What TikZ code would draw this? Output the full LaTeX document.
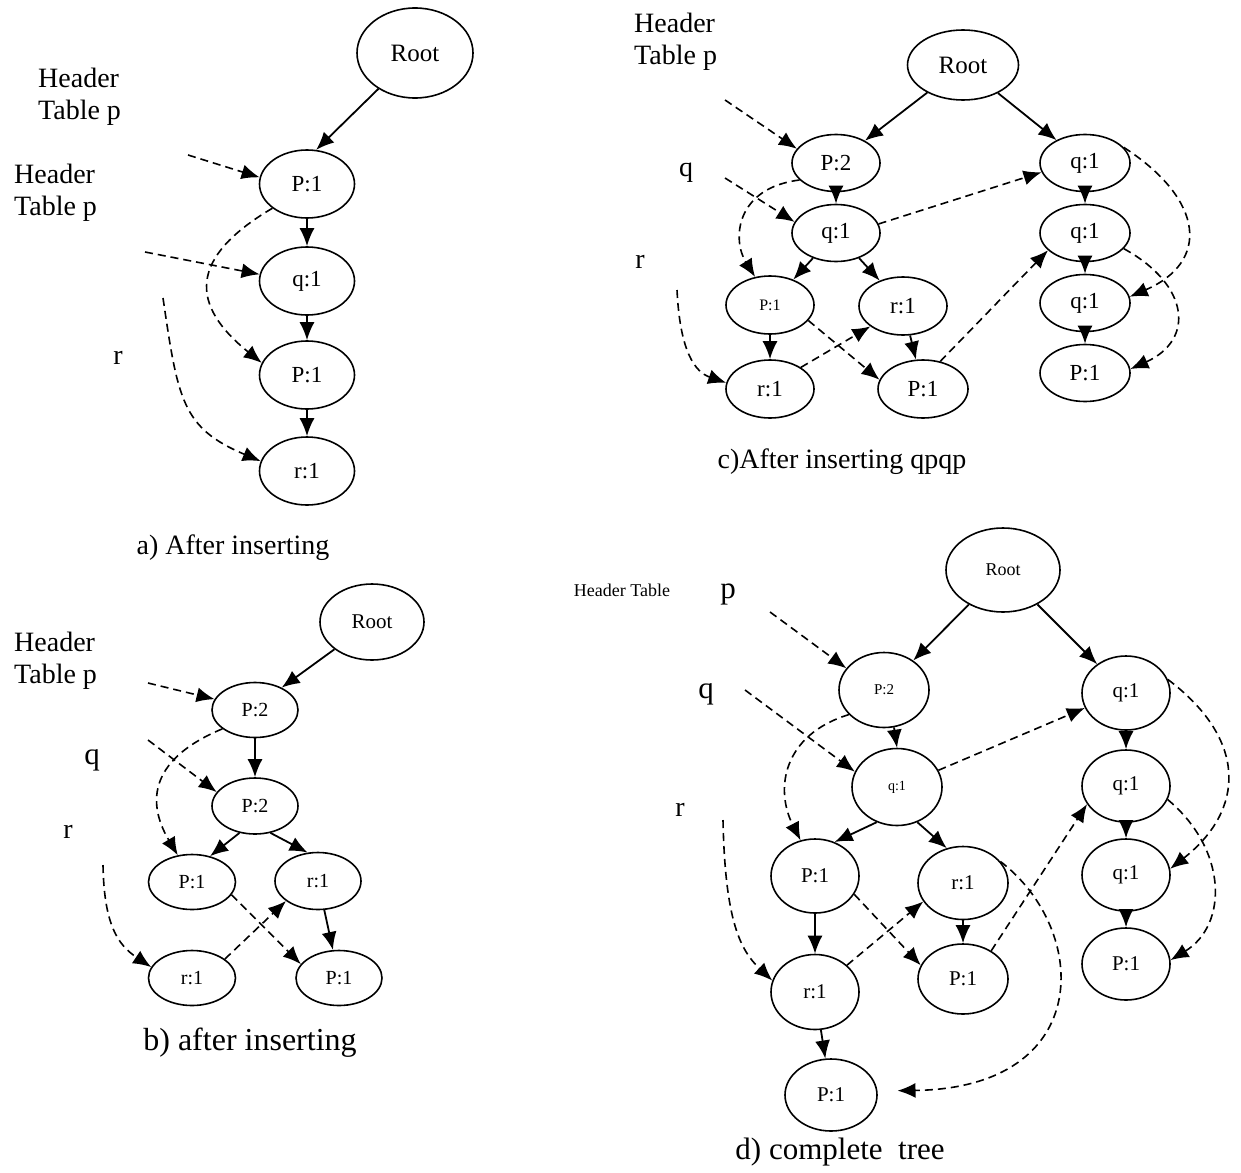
\documentclass[tikz,border=0pt]{standalone}
\usepackage{fontspec}
\setmainfont{Liberation Serif}
\usetikzlibrary{shapes.geometric,arrows.meta}

\tikzset{
  nd/.style={ellipse, draw, line width=1.6pt, inner sep=0pt, minimum width=92pt, minimum height=66pt, font=\fontsize{23}{23}\selectfont},
  rootnd/.style={nd, minimum width=116pt, minimum height=90pt, font=\fontsize{25}{25}\selectfont},
  tr/.style={line width=1.8pt, -{Latex[length=18pt,width=15pt]}},
  hl/.style={line width=1.6pt, dash pattern=on 8pt off 5pt, -{Latex[length=18pt,width=15pt]}},
  lbl/.style={font=\fontsize{28}{32}\selectfont, align=left, inner sep=0pt},
  captext/.style={font=\fontsize{28}{28}\selectfont, inner sep=0pt}
}

\begin{document}
\begin{tikzpicture}[x=1pt, y=-1pt]

  \useasboundingbox (0,0) rectangle (1241,1172);

  % a)
  \node (aroot) [rootnd] at (415,53) {Root};
  \node (ap1) [nd, minimum width=95pt, minimum height=68pt] at (307,184) {P:1};
  \node (aq1) [nd, minimum width=95pt, minimum height=68pt] at (307,281) {q:1};
  \node (ap2) [nd, minimum width=95pt, minimum height=68pt] at (307,375) {P:1};
  \node (ar1) [nd, minimum width=95pt, minimum height=68pt] at (307,471) {r:1};
  \node (ahdr) [lbl, anchor=west] at (38,97) {Header\\Table p};
  \node (ahdrb) [lbl, anchor=west] at (14,193) {Header\\Table p};
  \node (alr) [lbl] at (118,358) {r};
  \node (acap) [captext] at (233,548) {a) After inserting};
  \coordinate (ahp) at (188,155);
  \coordinate (ahq) at (145,252);
  \coordinate (ahr) at (163,298);

  \draw [tr] (aroot) -- (ap1.75);
  \draw [tr] (ap1) -- (aq1);
  \draw [tr] (aq1) -- (ap2);
  \draw [tr] (ap2) -- (ar1);
  \draw [hl] (ahp) -- (ap1.172);
  \draw [hl] (ahq) -- (aq1.172);
  \draw [hl] (ap1.215) .. controls (188,258) and (190,305) .. (ap2.165);
  \draw [hl] (ahr) .. controls (178,400) and (182,428) .. (ar1.168);

  % c)
  \node (croot) [rootnd, minimum width=111pt, minimum height=70pt] at (963,65) {Root};
  \node (cp2) [nd, minimum width=88pt, minimum height=57pt] at (836,163) {P:2};
  \node (cq1) [nd, minimum width=88pt, minimum height=57pt] at (836,233) {q:1};
  \node (cp1) [nd, minimum width=88pt, minimum height=58pt, font=\fontsize{16}{16}\selectfont] at (770,305) {P:1};
  \node (cr1) [nd, minimum width=88pt, minimum height=58pt] at (903,306) {r:1};
  \node (cr1b) [nd, minimum width=88pt, minimum height=58pt] at (770,389) {r:1};
  \node (cp1b) [nd, minimum width=90pt, minimum height=58pt] at (923,389) {P:1};
  \node (cq1r) [nd, minimum width=90pt, minimum height=57pt] at (1085,163) {q:1};
  \node (cq2r) [nd, minimum width=90pt, minimum height=57pt] at (1085,233) {q:1};
  \node (cq3r) [nd, minimum width=90pt, minimum height=57pt] at (1085,303) {q:1};
  \node (cp1r) [nd, minimum width=90pt, minimum height=57pt] at (1085,373) {P:1};
  \node (chdr) [lbl, anchor=west] at (634,42) {Header\\Table p};
  \node (clq) [lbl] at (686,173) {q};
  \node (clr) [lbl] at (640,262) {r};
  \node (ccap) [captext] at (842,462) {c)After inserting qpqp};
  \coordinate (chp) at (725,100);
  \coordinate (chq) at (725,178);
  \coordinate (chr) at (677,290);

  \draw [tr] (croot) -- (cp2);
  \draw [tr] (croot) -- (cq1r);
  \draw [tr] (cp2) -- (cq1);
  \draw [tr] (cq1) -- (cp1);
  \draw [tr] (cq1) -- (cr1);
  \draw [tr] (cp1) -- (cr1b);
  \draw [tr] (cr1) -- (cp1b);
  \draw [tr] (cq1r) -- (cq2r);
  \draw [tr] (cq2r) -- (cq3r);
  \draw [tr] (cq3r) -- (cp1r);
  \draw [hl] (chp) -- (cp2.160);
  \draw [hl] (chq) -- (cq1.165);
  \draw [hl] (cp2.205) .. controls (735,188) and (732,240) .. (cp1.118);
  \draw [hl] (cq1.12) -- (cq1r.192);
  \draw [hl] (chr) .. controls (680,352) and (695,372) .. (cr1b.172);
  \draw [hl] (cr1b.35) -- (cr1.212);
  \draw [hl] (cp1.-22) -- (cp1b.168);
  \draw [hl] (cp1b.58) -- (cq2r.205);
  \draw [hl] (cq1r.22) .. controls (1205,200) and (1210,262) .. (cq3r.8);
  \draw [hl] (cq2r.-22) .. controls (1190,285) and (1195,340) .. (cp1r.5);

  % b)
  \node (broot) [rootnd, minimum width=104pt, minimum height=76pt, font=\fontsize{21}{21}\selectfont] at (372,622) {Root};
  \node (bp2) [nd, minimum width=86pt, minimum height=55pt, font=\fontsize{20}{20}\selectfont] at (255,710) {P:2};
  \node (bp2b) [nd, minimum width=86pt, minimum height=56pt, font=\fontsize{20}{20}\selectfont] at (255,806) {P:2};
  \node (bp1) [nd, minimum width=87pt, minimum height=55pt, font=\fontsize{20}{20}\selectfont] at (192,882) {P:1};
  \node (br1) [nd, minimum width=86pt, minimum height=57pt, font=\fontsize{20}{20}\selectfont] at (318,881) {r:1};
  \node (br1b) [nd, minimum width=87pt, minimum height=55pt, font=\fontsize{20}{20}\selectfont] at (192,978) {r:1};
  \node (bp1b) [nd, minimum width=86pt, minimum height=55pt, font=\fontsize{20}{20}\selectfont] at (339,978) {P:1};
  \node (bhdr) [lbl, anchor=west] at (14,661) {Header\\Table p};
  \node (blq) [lbl, font=\fontsize{31}{31}\selectfont] at (92,760) {q};
  \node (blr) [lbl] at (68,832) {r};
  \node (bcap) [captext, font=\fontsize{32}{32}\selectfont] at (250,1043) {b) after inserting};
  \coordinate (bhp) at (148,683);
  \coordinate (bhq) at (148,740);
  \coordinate (bhr) at (103,865);

  \draw [tr] (broot) -- (bp2.40);
  \draw [tr] (bp2) -- (bp2b);
  \draw [tr] (bp2b.240) -- (bp1.55);
  \draw [tr] (bp2b.-60) -- (br1.110);
  \draw [tr] (br1) -- (bp1b);
  \draw [hl] (bhp) -- (bp2.165);
  \draw [hl] (bhq) -- (bp2b.160);
  \draw [hl] (bp2.210) .. controls (152,758) and (145,800) .. (bp1.118);
  \draw [hl] (bhr) .. controls (104,925) and (118,945) .. (br1b.165);
  \draw [hl] (br1b.30) -- (br1.212);
  \draw [hl] (bp1.-18) -- (bp1b.160);

  % d)
  \node (droot) [rootnd, minimum width=114pt, minimum height=84pt, font=\fontsize{18}{18}\selectfont] at (1003,570) {Root};
  \node (dp2) [nd, minimum width=90pt, minimum height=75pt, font=\fontsize{15}{15}\selectfont] at (884,690) {P:2};
  \node (dq1) [nd, minimum width=90pt, minimum height=77pt, font=\fontsize{14}{14}\selectfont] at (897,787) {q:1};
  \node (dp1) [nd, minimum width=88pt, minimum height=74pt, font=\fontsize{21}{21}\selectfont] at (815,876) {P:1};
  \node (dr1) [nd, minimum width=90pt, minimum height=73pt, font=\fontsize{21}{21}\selectfont] at (963,883) {r:1};
  \node (dr1b) [nd, minimum width=88pt, minimum height=75pt, font=\fontsize{21}{21}\selectfont] at (815,992) {r:1};
  \node (dp1b) [nd, minimum width=90pt, minimum height=70pt, font=\fontsize{21}{21}\selectfont] at (963,979) {P:1};
  \node (dp1bb) [nd, minimum width=92pt, minimum height=72pt, font=\fontsize{21}{21}\selectfont] at (831,1095) {P:1};
  \node (dq1r) [nd, minimum width=88pt, minimum height=74pt, font=\fontsize{21}{21}\selectfont] at (1126,693) {q:1};
  \node (dq2r) [nd, minimum width=88pt, minimum height=72pt, font=\fontsize{21}{21}\selectfont] at (1126,786) {q:1};
  \node (dq3r) [nd, minimum width=88pt, minimum height=72pt, font=\fontsize{21}{21}\selectfont] at (1126,875) {q:1};
  \node (dp1r) [nd, minimum width=88pt, minimum height=72pt, font=\fontsize{21}{21}\selectfont] at (1126,964) {P:1};
  \node (dhdr) [lbl, font=\fontsize{18}{18}\selectfont] at (622,590) {Header Table};
  \node (dlp) [lbl, font=\fontsize{31}{31}\selectfont] at (728,594) {p};
  \node (dlq) [lbl, font=\fontsize{31}{31}\selectfont] at (706,694) {q};
  \node (dlr) [lbl] at (680,810) {r};
  \node (dcap) [captext, font=\fontsize{31}{31}\selectfont] at (840,1152) {d) complete\enspace tree};
  \coordinate (dhp) at (770,612);
  \coordinate (dhq) at (745,690);
  \coordinate (dhr) at (723,820);

  \draw [tr] (droot) -- (dp2);
  \draw [tr] (droot) -- (dq1r);
  \draw [tr] (dp2.-75) -- (dq1.north);
  \draw [tr] (dq1.240) -- (dp1.60);
  \draw [tr] (dq1.-60) -- (dr1.115);
  \draw [tr] (dp1) -- (dr1b);
  \draw [tr] (dr1) -- (dp1b);
  \draw [tr] (dr1b) -- (dp1bb);
  \draw [tr] (dq1r) -- (dq2r);
  \draw [tr] (dq2r) -- (dq3r);
  \draw [tr] (dq3r) -- (dp1r);
  \draw [hl] (dhp) -- (dp2.150);
  \draw [hl] (dhq) -- (dq1.160);
  \draw [hl] (dp2.215) .. controls (782,735) and (775,790) .. (dp1.112);
  \draw [hl] (dq1.22) -- (dq1r.200);
  \draw [hl] (dhr) .. controls (725,920) and (740,950) .. (dr1b.165);
  \draw [hl] (dr1b.40) -- (dr1.205);
  \draw [hl] (dp1.-25) -- (dp1b.162);
  \draw [hl] (dp1b.45) -- (dq2r.205);
  \draw [hl, shorten >=20pt] (dr1.30) .. controls (1090,930) and (1095,1088) .. (dp1bb.5);
  \draw [hl] (dq1r.18) .. controls (1248,740) and (1245,810) .. (dq3r.8);
  \draw [hl] (dq2r.-18) .. controls (1228,850) and (1228,925) .. (dp1r.5);

\end{tikzpicture}
\end{document}
